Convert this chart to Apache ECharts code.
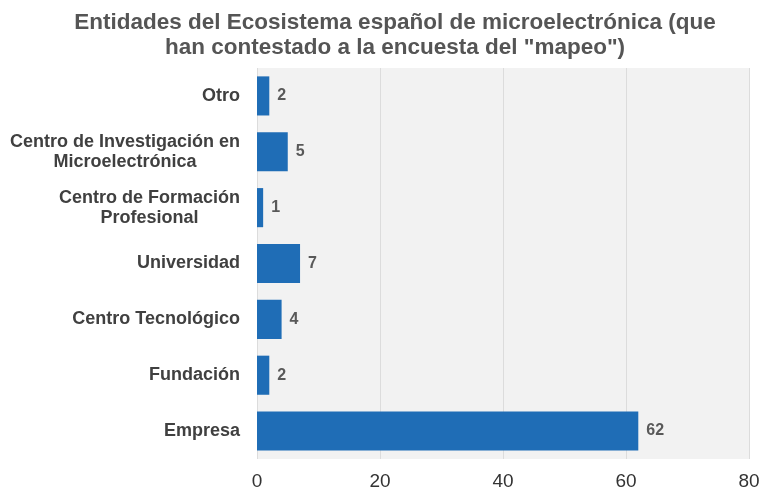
<!DOCTYPE html>
<html><head><meta charset="utf-8">
<script src="https://cdn.jsdelivr.net/npm/echarts@6/dist/echarts.min.js"></script>
<style>html,body{margin:0;padding:0;background:#fff}#c{width:763px;height:491px}</style>
</head><body><div id="c"></div>
<script>
var categories = ['Empresa', 'Fundación', 'Centro Tecnológico', 'Universidad', 'Centro de Formación\nProfesional', 'Centro de Investigación en\nMicroelectrónica', 'Otro'];
var values = [62, 2, 4, 7, 1, 5, 2];
var xTicks = [0, 20, 40, 60, 80];
var titleText = 'Entidades del Ecosistema español de microelectrónica (que\nhan contestado a la encuesta del "mapeo")';

var chart = echarts.init(document.getElementById('c'));
chart.setOption({
  backgroundColor: '#fff',
  title: {
    text: titleText, left: 390, top: 5, textAlign: 'center',
    textStyle: { fontFamily: 'Liberation Sans, Arial', fontSize: 22.5, fontWeight: 'bold', color: '#555', lineHeight: 25 }
  },
  grid: { left: 257, right: 14, top: 68, bottom: 31, show: true, backgroundColor: '#f2f2f2', borderWidth: 0 },
  xAxis: {
    type: 'value', min: xTicks[0], max: xTicks[xTicks.length - 1], interval: 20,
    axisLine: { show: false }, axisTick: { show: false },
    splitLine: { lineStyle: { color: '#dcdcdc', width: 1 } },
    axisLabel: { fontFamily: 'Liberation Sans, Arial', fontSize: 19, color: '#333', margin: 13 }
  },
  yAxis: {
    type: 'category', data: categories,
    axisLine: { show: false }, axisTick: { show: false },
    axisLabel: {
      margin: 17, align: 'right',
      formatter: function (v) { return v.split('\n').map(function (l) { return '{c|' + l + '}'; }).join('\n'); },
      rich: { c: { align: 'center', fontFamily: 'Liberation Sans, Arial', fontSize: 18, fontWeight: 'bold', color: '#404040', lineHeight: 20 } }
    }
  },
  series: [{
    type: 'bar', data: values, barWidth: '70%',
    itemStyle: { color: '#1f6db6' },
    label: { show: true, position: 'right', distance: 8, fontFamily: 'Liberation Sans, Arial', fontSize: 16, fontWeight: 'bold', color: '#595959' }
  }]
});
</script></body></html>
